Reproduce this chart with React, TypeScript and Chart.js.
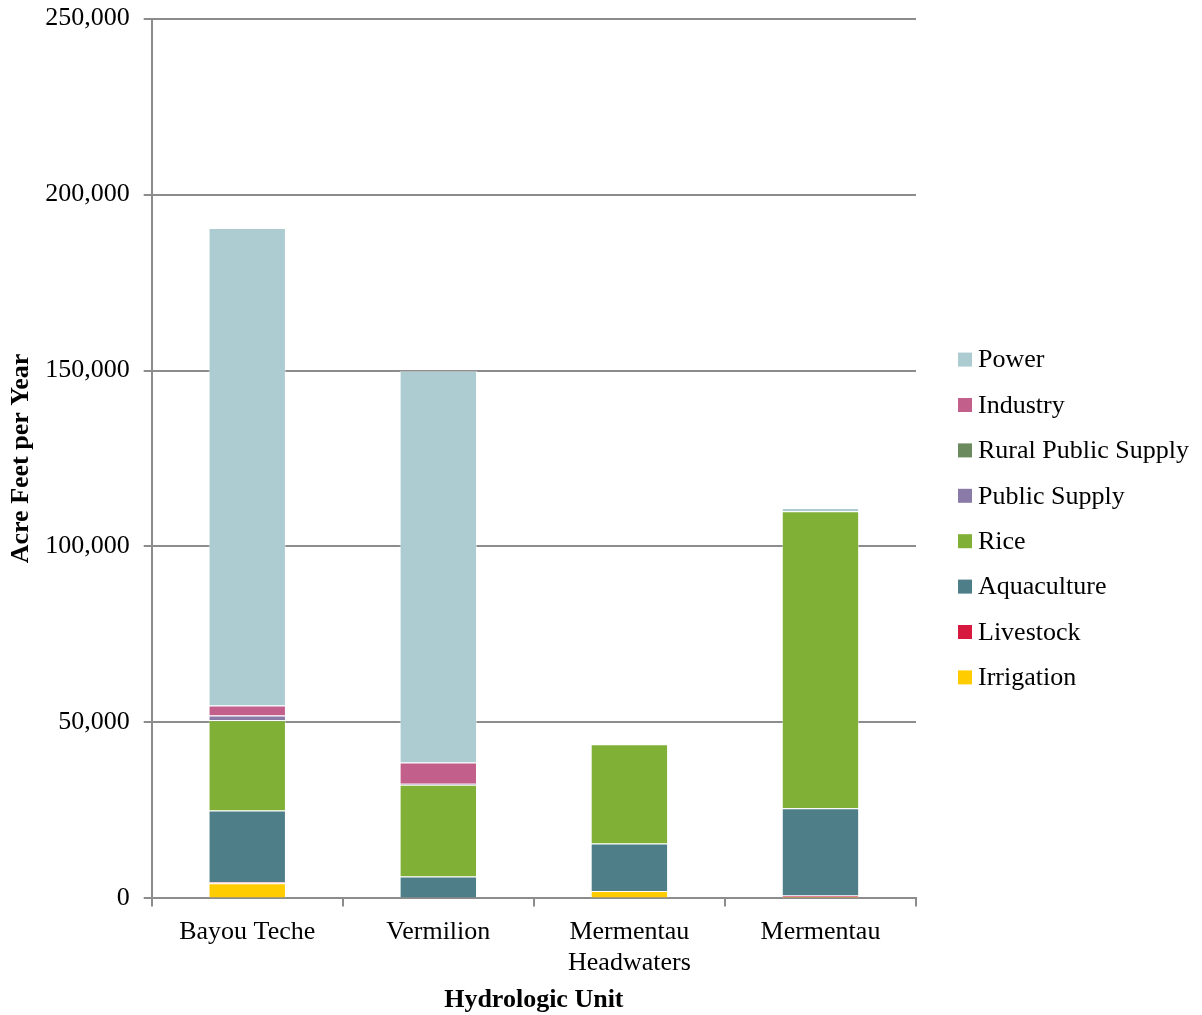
import React, { useEffect, useRef } from "react";
import { Chart, registerables } from "chart.js";

Chart.register(...registerables);

const categories: (string | string[])[] = ["Bayou Teche", "Vermilion", ["Mermentau", "Headwaters"], "Mermentau"];

const irrigation = [4300, 0, 2100, 500];
const livestock = [300, 0, 0, 300];
const aquaculture = [20400, 6200, 13500, 24800];
const rice = [25600, 26100, 28200, 84400];
const publicSupply = [1400, 300, 0, 0];
const ruralPublicSupply = [0, 0, 0, 0];
const industry = [2800, 6000, 0, 0];
const power = [135700, 111300, 0, 900];

const yTicks = [0, 50000, 100000, 150000, 200000, 250000];

const FONT = "'Liberation Serif', 'Times New Roman', serif";

const seriesDefs = [
  { label: "Irrigation", data: irrigation, color: "#ffcc00" },
  { label: "Livestock", data: livestock, color: "#d7193f" },
  { label: "Aquaculture", data: aquaculture, color: "#4e7f89" },
  { label: "Rice", data: rice, color: "#80b035" },
  { label: "Public Supply", data: publicSupply, color: "#8a7aa8" },
  { label: "Rural Public Supply", data: ruralPublicSupply, color: "#6b8a5e" },
  { label: "Industry", data: industry, color: "#c2608b" },
  { label: "Power", data: power, color: "#adccd1" },
];

const CANVAS_W = 1202;
const CANVAS_H = 1026;
const SHIFT_Y = -11;

const customLegend = {
  id: "customLegend",
  afterDraw(chart: any) {
    const ctx = chart.ctx;
    const area = chart.chartArea;
    const ds = chart.data.datasets.slice().reverse();
    const x = area.right + 42;
    const spacing = 45.4;
    const startY = (area.top + area.bottom) / 2 + 60 - ((ds.length - 1) * spacing) / 2;
    ctx.save();
    ctx.font = `26px ${FONT}`;
    ctx.textBaseline = "middle";
    ctx.textAlign = "left";
    ds.forEach((d: any, i: number) => {
      const y = startY + i * spacing;
      ctx.fillStyle = d.backgroundColor;
      ctx.fillRect(x, y - 7, 14, 14);
      ctx.fillStyle = "#000";
      ctx.fillText(d.label, x + 20, y + 1);
    });
    ctx.restore();
  },
};

export default function App() {
  const ref = useRef<HTMLCanvasElement | null>(null);
  useEffect(() => {
    if (!ref.current) return;
    const chart = new Chart(ref.current, {
      type: "bar",
      data: {
        labels: categories,
        datasets: seriesDefs.map((s) => ({
          label: s.label,
          data: s.data,
          backgroundColor: s.color,
          borderColor: "rgba(255,255,255,0.45)",
          borderWidth: 1,
          barPercentage: 0.405,
          categoryPercentage: 1,
        })),
      },
      options: {
        responsive: false,
        animation: false,
        layout: { padding: { top: -3, right: 286, left: 6, bottom: -1 } },
        plugins: {
          legend: { display: false },
          tooltip: { enabled: false },
        },
        scales: {
          x: {
            stacked: true,
            grid: {
              offset: true,
              drawOnChartArea: false,
              drawTicks: true,
              tickLength: 8,
              color: "#8c8c8c",
              lineWidth: 2,
            },
            border: { color: "#8c8c8c", width: 2 },
            ticks: {
              color: "#000",
              font: { family: FONT, size: 26 },
              padding: 10,
              maxRotation: 0,
              autoSkip: false,
            },
            title: {
              display: true,
              text: "Hydrologic Unit",
              color: "#000",
              font: { family: FONT, size: 26, weight: "bold" },
              padding: { top: -4, bottom: 0 },
            },
          },
          y: {
            stacked: true,
            min: 0,
            max: 250000,
            afterBuildTicks: (axis: any) => {
              axis.ticks = yTicks.map((v) => ({ value: v }));
            },
            grid: {
              color: "#8c8c8c",
              lineWidth: 2,
              drawTicks: true,
              tickLength: 8,
            },
            border: { color: "#8c8c8c", width: 2 },
            ticks: {
              color: "#000",
              font: { family: FONT, size: 26 },
              padding: 14,
              callback: (v: any) => Number(v).toLocaleString("en-US"),
            },
            title: {
              display: true,
              text: "Acre Feet per Year",
              color: "#000",
              font: { family: FONT, size: 26, weight: "bold" },
              padding: { top: 0, bottom: -6 },
            },
          },
        },
      },
      plugins: [customLegend],
    });
    return () => chart.destroy();
  }, []);
  return (
    <div style={{ position: "fixed", left: 0, top: 0, width: 1202, height: 1015, background: "#fff", overflow: "hidden" }}>
      <canvas
        ref={ref}
        width={CANVAS_W}
        height={CANVAS_H}
        style={{ display: "block", position: "absolute", left: 0, top: SHIFT_Y }}
      />
    </div>
  );
}
